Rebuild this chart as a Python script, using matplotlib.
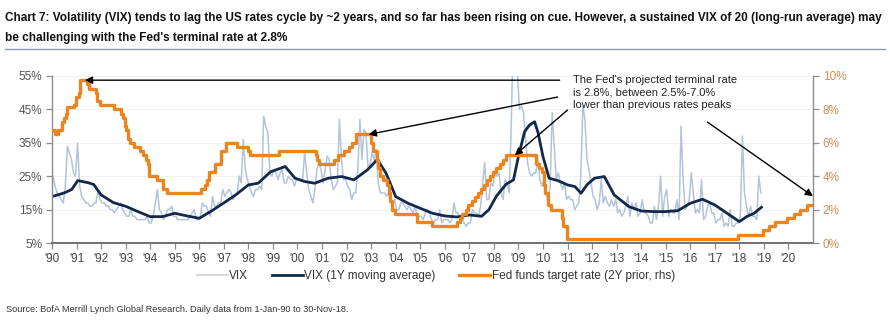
import numpy as np
import matplotlib
matplotlib.use("Agg")
import matplotlib.pyplot as plt
from matplotlib import font_manager

# fonts
names = {f.name for f in font_manager.fontManager.ttflist}
NARROW = "Liberation Sans Narrow" if "Liberation Sans Narrow" in names else "Liberation Sans"
plt.rcParams["font.family"] = ["Liberation Sans", "DejaVu Sans"]

# VIX, monthly readings, Jan-1990 .. Nov-2018
vix_monthly = [
    25, 22, 20, 19, 18, 17, 22, 34, 32, 30, 26, 25,   # 1990
    35, 22, 19, 18, 17, 17, 16, 16, 17, 17, 21, 18,   # 1991
    17, 17, 16, 16, 15, 15, 14, 15, 16, 17, 15, 14,   # 1992
    13, 13, 15, 13, 13, 12, 12, 12, 12, 12, 13, 11,   # 1993
    11, 13, 17, 21, 15, 14, 12, 13, 15, 15, 16, 13,   # 1994
    13, 12, 12, 12, 12, 12, 12, 13, 14, 15, 12, 12,   # 1995
    13, 17, 16, 16, 14, 13, 19, 16, 16, 17, 17, 21,   # 1996
    19, 20, 21, 20, 18, 19, 20, 25, 23, 36, 27, 24,   # 1997
    22, 20, 19, 21, 21, 22, 21, 43, 40, 38, 26, 25,   # 1998
    27, 26, 24, 26, 27, 23, 23, 25, 24, 24, 22, 24,   # 1999
    24, 24, 24, 32, 26, 21, 19, 17, 21, 27, 29, 27,   # 2000
    23, 27, 31, 30, 24, 21, 22, 23, 42, 30, 24, 24,   # 2001
    22, 21, 18, 20, 20, 27, 42, 30, 39, 38, 27, 29,   # 2002
    32, 30, 33, 23, 20, 20, 20, 19, 20, 17, 16, 18,   # 2003
    15, 15, 17, 17, 16, 15, 16, 15, 14, 16, 13, 13,   # 2004
    13, 12, 14, 15, 14, 12, 11, 12, 12, 15, 11, 12,   # 2005
    12, 12, 11, 12, 17, 14, 14, 12, 12, 11, 10, 11,   # 2006
    11, 15, 14, 14, 13, 16, 23, 29, 18, 18, 23, 22,   # 2007
    26, 25, 26, 20, 18, 24, 23, 20, 40, 70, 62, 56,   # 2008
    45, 46, 44, 36, 29, 26, 25, 26, 26, 30, 24, 22,   # 2009
    24, 20, 17, 22, 44, 34, 24, 26, 23, 21, 23, 18,   # 2010
    19, 18, 18, 15, 16, 17, 25, 46, 42, 30, 27, 23,   # 2011
    19, 18, 15, 17, 24, 17, 19, 17, 16, 18, 16, 18,   # 2012
    14, 15, 13, 14, 16, 19, 13, 17, 15, 17, 13, 14,   # 2013
    18, 14, 14, 13, 11, 11, 16, 12, 16, 25, 13, 19,   # 2014
    21, 13, 15, 14, 14, 18, 12, 40, 24, 15, 16, 18,   # 2015
    26, 20, 14, 15, 14, 24, 12, 13, 16, 17, 14, 14,   # 2016
    11, 12, 12, 14, 10, 11, 10, 15, 10, 10, 11, 11,   # 2017
    13, 37, 20, 16, 13, 16, 13, 13, 12, 25, 20,       # 2018
]

# VIX 1Y moving average (decimal year, %)
ma_year = [1990.0, 1990.5, 1990.8, 1991.05, 1991.5, 1991.7, 1992.0, 1992.5, 1993.0,
           1993.5, 1994.0, 1994.5, 1995.0, 1995.5, 1996.0, 1996.5, 1997.0, 1997.5,
           1998.0, 1998.4, 1998.9, 1999.5, 1999.9, 2000.3, 2000.7, 2001.25, 2001.8,
           2002.3, 2002.85, 2003.25, 2003.6, 2004.0, 2004.5, 2005.0, 2005.5, 2006.0,
           2006.5, 2007.0, 2007.5, 2007.8, 2008.1, 2008.5, 2008.8, 2009.0, 2009.25,
           2009.45, 2009.66, 2009.8, 2010.0, 2010.25, 2010.6, 2011.0, 2011.3, 2011.55,
           2011.8, 2012.1, 2012.5, 2012.9, 2013.5, 2014.0, 2014.5, 2015.0, 2015.5,
           2016.0, 2016.5, 2017.0, 2017.5, 2018.0, 2018.3, 2018.6, 2018.9]
ma_value = [18.9, 20.0, 21.0, 23.7, 23.0, 22.5, 19.4, 17.1, 16.0,
            14.4, 12.9, 12.9, 13.9, 13.1, 12.4, 14.6, 17.0, 19.5,
            22.4, 22.9, 26.3, 27.9, 24.4, 23.4, 22.9, 24.4, 24.9,
            23.9, 26.9, 30.0, 26.0, 18.9, 16.9, 15.4, 13.9, 13.1,
            12.8, 13.4, 13.0, 15.0, 19.0, 22.6, 23.9, 30.9, 38.3,
            40.3, 41.3, 38.0, 30.9, 24.4, 23.7, 22.4, 21.9, 19.9,
            22.5, 24.4, 24.9, 19.4, 15.9, 14.6, 14.4, 14.4, 14.7,
            16.9, 18.1, 16.4, 13.9, 11.4, 12.9, 13.9, 15.7]

# Fed funds target rate, change dates (decimal year, actual) and level (%)
fed_date = [1988.00, 1988.12, 1988.24, 1988.39, 1988.47, 1988.55, 1988.61, 1988.89,
            1988.96, 1989.10, 1989.15, 1989.43, 1989.52, 1989.79, 1989.84, 1989.96,
            1990.53, 1990.83, 1990.88, 1990.96, 1991.02, 1991.09, 1991.18, 1991.33,
            1991.60, 1991.70, 1991.83, 1991.92, 1991.97, 1992.27, 1992.52, 1992.68,
            1994.09, 1994.22, 1994.30, 1994.38, 1994.62, 1994.87, 1995.09, 1995.52,
            1995.97, 1996.08, 1997.24, 1998.74, 1998.79, 1998.88, 1999.50, 1999.65,
            1999.88, 2000.09, 2000.22, 2000.38, 2001.01, 2001.08, 2001.22, 2001.30,
            2001.38, 2001.49, 2001.64, 2001.71, 2001.75, 2001.84, 2001.96, 2002.85,
            2003.48, 2004.49, 2004.61, 2004.72, 2004.86, 2004.96, 2005.09, 2005.22,
            2005.34, 2005.49, 2005.61, 2005.72, 2005.84, 2005.96, 2006.08, 2006.24,
            2006.36, 2006.49, 2007.72, 2007.83, 2007.95, 2008.06, 2008.08, 2008.21,
            2008.33, 2008.77, 2008.83, 2008.96, 2015.96, 2016.96, 2017.21, 2017.46,
            2017.95, 2018.22, 2018.46, 2018.74, 2018.92]
fed_rate = [6.75, 6.50, 6.75, 7.25, 7.50, 7.75, 8.125, 8.25,
            8.75, 9.00, 9.75, 9.50, 9.25, 9.00, 8.50, 8.25,
            8.00, 7.75, 7.50, 7.00, 6.75, 6.25, 6.00, 5.75,
            5.50, 5.25, 5.00, 4.75, 4.00, 3.75, 3.25, 3.00,
            3.25, 3.50, 3.75, 4.25, 4.75, 5.50, 6.00, 5.75,
            5.50, 5.25, 5.50, 5.25, 5.00, 4.75, 5.00, 5.25,
            5.50, 5.75, 6.00, 6.50, 6.00, 5.50, 5.00, 4.50,
            4.00, 3.75, 3.50, 3.00, 2.50, 2.00, 1.75, 1.25,
            1.00, 1.25, 1.50, 1.75, 2.00, 2.25, 2.50, 2.75,
            3.00, 3.25, 3.50, 3.75, 4.00, 4.25, 4.50, 4.75,
            5.00, 5.25, 4.75, 4.50, 4.25, 3.50, 3.00, 2.25,
            2.00, 1.50, 1.00, 0.25, 0.50, 0.75, 1.00, 1.25,
            1.50, 1.75, 2.00, 2.25, 2.25]
lag_years = 2
terminal_rate = 2.8

years = list(range(1990, 2021))
year_labels = ["'" + str(y)[2:] for y in years]
left_ticks = [5, 15, 25, 35, 45, 55]
right_ticks = [0, 2, 4, 6, 8, 10]

title_1 = ("Chart 7: Volatility (VIX) tends to lag the US rates cycle by ~2 years, and so far has been "
           "rising on cue. However, a sustained VIX of 20 (long-run average) may")
title_2 = "be challenging with the Fed's terminal rate at 2.8%"
note = ("The Fed's projected terminal rate\nis 2.8%, between 2.5%-7.0%\n"
        "lower than previous rates peaks")
source = "Source: BofA Merrill Lynch Global Research. Daily data from 1-Jan-90 to 30-Nov-18."

C_VIX = "#b3c4da"
C_MA = "#13294b"
C_FED = "#e9841f"
C_AX = "#8c8c8c"

fig = plt.figure(figsize=(8.9, 3.24), dpi=100)
ax = fig.add_axes([52 / 890, 81 / 324, 761 / 890, 167 / 324])
ax2 = ax.twinx()

vix_x = 1990 + (np.arange(len(vix_monthly)) + 0.5) / 12
ax.plot(vix_x, vix_monthly, color=C_VIX, lw=1.1, label="VIX")
ax.plot(ma_year, ma_value, color=C_MA, lw=2.0, label="VIX (1Y moving average)")
ax2.step(np.array(fed_date) + lag_years, fed_rate, where="post", color=C_FED, lw=2.4,
         label="Fed funds target rate (2Y prior, rhs)")

ax.set_xlim(1990, 2021)
ax.set_ylim(5, 55)
ax2.set_ylim(0, 10)
ax.set_xticks(years)
ax.set_xticklabels(year_labels, fontsize=8.5, color="#444444", family=NARROW)
ax.set_yticks(left_ticks)
ax.set_yticklabels([f"{t}%" for t in left_ticks], fontsize=8.5, color="#555555")
ax2.set_yticks(right_ticks)
ax2.set_yticklabels([f"{t}%" for t in right_ticks], fontsize=8.5, color="#d98c55")
ax.grid(axis="y", color="#f0f0f0", lw=0.6)

for a in (ax, ax2):
    a.spines["top"].set_visible(False)
    for s in ("left", "right", "bottom"):
        a.spines[s].set_color(C_AX)
        a.spines[s].set_linewidth(1.0)
    a.tick_params(length=4, color=C_AX, width=0.9, pad=3)
ax.spines["bottom"].set_color("#666666")
ax.spines["bottom"].set_linewidth(1.3)
ax.spines["right"].set_visible(False)
ax2.spines["left"].set_visible(False)
ax2.spines["bottom"].set_visible(False)

# arrows from the note to the rate peaks and the terminal rate
arrow = dict(arrowstyle="-|>", color="black", lw=1.0, mutation_scale=11, shrinkA=0, shrinkB=0)
peak_89 = max(fed_rate[:20])
peak_00 = 6.5
peak_06 = 5.25
ax2.annotate("", xy=(1991.34, peak_89), xytext=(2010.68, peak_89), arrowprops=arrow, annotation_clip=False)
ax2.annotate("", xy=(2002.9, peak_00), xytext=(2010.6, 8.74), arrowprops=arrow, annotation_clip=False)
ax2.annotate("", xy=(2008.85, peak_06), xytext=(2011.0, 7.96), arrowprops=arrow, annotation_clip=False)
ax2.annotate("", xy=(2021.0, terminal_rate), xytext=(2016.7, 7.24), arrowprops=arrow, annotation_clip=False)

fig.text(573 / 890, 1 - 75 / 324, note, fontsize=8, color="#222222", va="top", ha="left",
         linespacing=1.3)

# title: two lines, first one fitted to the width of the reference line
t1 = fig.text(5 / 890, 1 - 18 / 324, title_1, fontsize=9, fontweight="bold", family=NARROW,
              color="#111111", va="center", ha="left")
renderer = fig.canvas.get_renderer()
fs = 9 * 877 / t1.get_window_extent(renderer).width
t1.set_fontsize(fs)
fig.text(5 / 890, 1 - 38 / 324, title_2, fontsize=fs, fontweight="bold", family=NARROW,
         color="#111111", va="center", ha="left")
fig.add_artist(plt.Line2D([5 / 890, 885 / 890], [1 - 49 / 324, 1 - 49 / 324],
                          color="#8c9bb0", lw=1.0))

h1, l1 = ax.get_legend_handles_labels()
h2, l2 = ax2.get_legend_handles_labels()
h1[0].set_color("#d0d0d0")
leg = fig.legend(h1 + h2, l1 + l2, loc="center", bbox_to_anchor=(436 / 890, 1 - 276 / 324),
                 ncol=3, frameon=False, fontsize=8.5, handlelength=2.6, handletextpad=0.15,
                 columnspacing=2.0)
for t in leg.get_texts():
    t.set_color("#333333")
h1[0].set_color(C_VIX)

fig.text(6 / 890, 1 - 309 / 324, source, fontsize=6.6, family=NARROW, color="#333333",
         va="center", ha="left")

fig.savefig("out.png", dpi=100)
